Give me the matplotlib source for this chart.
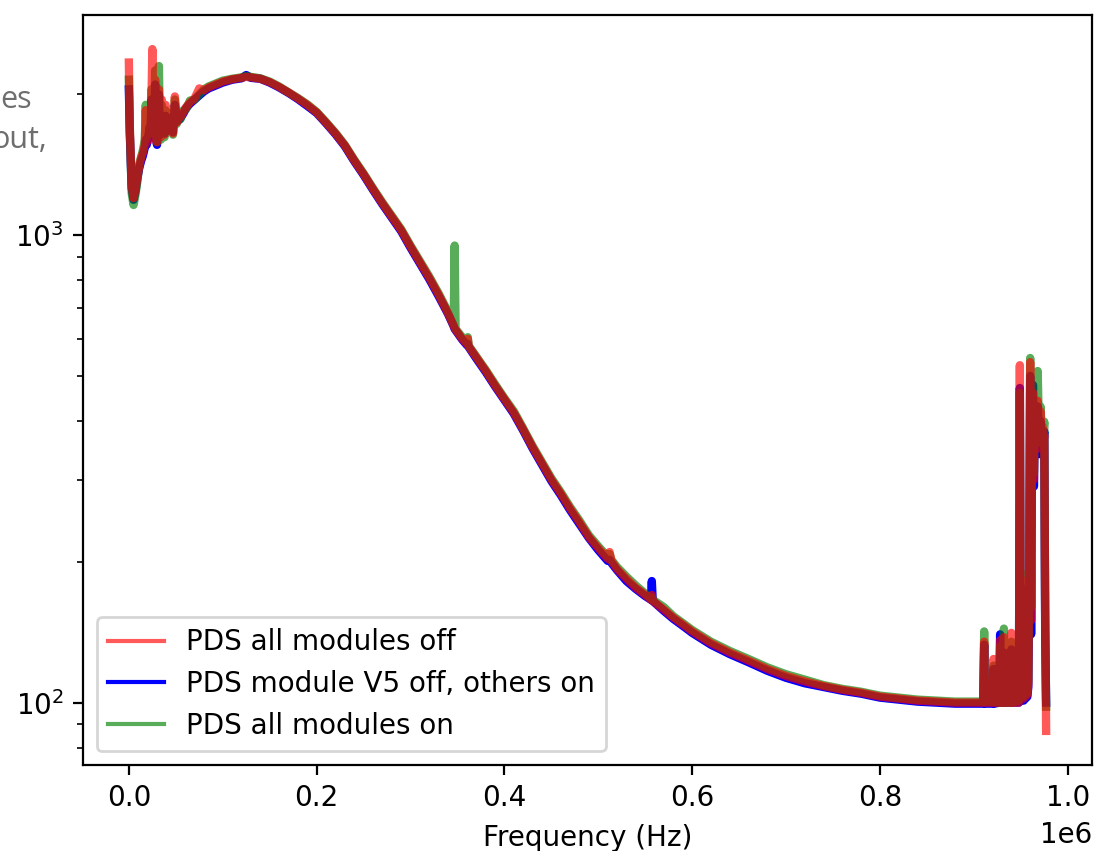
import matplotlib
matplotlib.use("Agg")
import matplotlib.pyplot as plt

# Frequency grid (kHz)
freq_khz = [
    0, 1, 3, 5, 7, 9, 11, 13, 15, 17,
    18, 19, 21, 22, 23, 24, 25, 26, 27, 28,
    29, 30, 31, 32, 33, 34, 35, 36, 37, 38,
    39, 40, 41, 42, 44, 46, 47, 49, 51, 53,
    55, 58, 61, 65, 70, 75, 80, 85, 90, 95,
    100, 110, 120, 125, 130, 140, 150, 160, 170, 180,
    190, 200, 210, 220, 230, 240, 250, 260, 270, 280,
    290, 300, 310, 320, 330, 340, 346, 347, 348, 355,
    360, 361, 362, 370, 380, 390, 400, 410, 420, 430,
    440, 450, 460, 470, 480, 490, 500, 510, 512, 514,
    520, 530, 540, 550, 556, 557, 558, 570, 580, 590,
    600, 620, 640, 660, 680, 700, 720, 740, 760, 780,
    800, 820, 840, 860, 880, 900, 910, 911, 912, 920,
    921, 922, 927, 928, 929, 931, 932, 933, 939, 940,
    941, 948, 949, 950, 953, 954, 955, 957, 958, 959,
    960, 961, 962, 963, 964, 965, 966, 967, 968, 969,
    970, 971, 972, 973, 974, 975, 976, 977,
]

# PDS all modules off (red)
pds_all_off = [
    2340, 1700, 1280, 1200, 1250, 1330, 1400, 1460, 1500, 1560,
    1850, 1580, 1620, 1750, 1600, 1900, 2500, 1650, 1700, 2150,
    1620, 1580, 1800, 2050, 1650, 1620, 1950, 1680, 1750, 1640,
    1900, 1680, 1850, 1690, 1850, 1680, 1650, 1980, 1740, 1780,
    1790, 1830, 1880, 1920, 1960, 2060, 2040, 2070, 2090, 2110,
    2130, 2155, 2170, 2180, 2175, 2160, 2125, 2075, 2020, 1960,
    1900, 1830, 1740, 1650, 1555, 1445, 1350, 1255, 1170, 1095,
    1025, 945, 875, 810, 745, 680, 640, 632, 628, 600,
    585, 600, 578, 548, 513, 477, 446, 417, 384, 352,
    325, 300, 280, 260, 243, 226, 214, 203, 210, 201,
    193, 184, 176, 170, 166, 170, 165, 158, 152, 147,
    142, 134, 128, 123, 118, 114, 111, 108.5, 106.5, 105,
    103, 102, 101, 100.5, 100, 100, 100, 135, 100, 100,
    124, 100, 100, 136, 100, 100, 138, 100, 100, 141,
    100, 100, 527, 102, 102, 182, 103, 104, 110, 200,
    535, 150, 420, 460, 300, 440, 380, 430, 442, 400,
    350, 420, 380, 390, 360, 373, 150, 87,
]

# PDS module V5 off, others on (blue)
pds_v5_off = [
    2050, 1650, 1260, 1190, 1240, 1320, 1390, 1440, 1480, 1540,
    1600, 1560, 1640, 1700, 1620, 1950, 1700, 1850, 1620, 2100,
    1600, 1560, 1700, 2000, 1640, 1660, 1800, 1660, 1700, 1650,
    1800, 1670, 1750, 1700, 1780, 1700, 1660, 1900, 1750, 1760,
    1780, 1820, 1870, 1910, 1950, 1990, 2030, 2060, 2080, 2100,
    2120, 2150, 2165, 2200, 2170, 2160, 2120, 2070, 2015, 1955,
    1890, 1825, 1735, 1645, 1550, 1440, 1345, 1250, 1165, 1090,
    1020, 940, 870, 805, 740, 678, 638, 630, 626, 598,
    582, 585, 576, 545, 510, 475, 444, 415, 382, 350,
    323, 298, 278, 258, 241, 225, 212, 201, 202, 199,
    192, 182, 175, 169, 166, 182, 165, 157, 151, 146,
    141, 133, 127, 122, 117, 113, 110, 108, 106, 104.5,
    102.5, 101.5, 100.5, 100, 99.5, 99.5, 99.5, 133, 99.5, 99.5,
    118, 99.5, 100, 140, 100, 100, 128, 100, 100, 130,
    100, 100, 471, 101, 101, 175, 102, 103, 108, 180,
    500, 140, 400, 478, 290, 420, 370, 410, 430, 390,
    340, 400, 370, 380, 350, 380, 140, 100,
]

# PDS all modules on (green)
pds_all_on = [
    2150, 1680, 1230, 1160, 1220, 1300, 1420, 1470, 1520, 1600,
    1900, 1620, 1780, 1650, 1700, 2050, 1750, 1900, 1650, 2250,
    1640, 1580, 1750, 2300, 1680, 1600, 1900, 1640, 1850, 1620,
    1850, 1660, 1800, 1680, 1820, 1660, 1640, 1950, 1730, 1800,
    1770, 1850, 1860, 1940, 1950, 2000, 2050, 2080, 2100, 2120,
    2140, 2160, 2175, 2190, 2180, 2165, 2130, 2080, 2020, 1965,
    1905, 1835, 1745, 1655, 1560, 1450, 1355, 1260, 1175, 1100,
    1030, 950, 880, 815, 750, 685, 645, 950, 630, 605,
    588, 605, 580, 550, 515, 480, 448, 420, 386, 354,
    327, 302, 282, 262, 245, 228, 216, 205, 208, 202,
    195, 186, 178, 171, 167, 168, 166, 160, 153, 148,
    143, 135, 129, 124, 119, 115, 112, 109, 107, 105.5,
    103.5, 102.5, 101.5, 101, 100.5, 100.5, 100.5, 142, 100.5, 100.5,
    120, 100.5, 100, 132, 100, 100, 144, 100, 100, 135,
    100, 101, 460, 103, 103, 188, 104, 105, 112, 190,
    546, 160, 410, 470, 310, 450, 390, 440, 512, 410,
    360, 430, 390, 399, 370, 399, 150, 98,
]

labels = ["PDS all modules off", "PDS module V5 off, others on", "PDS all modules on"]

freq_hz = [f * 1e3 for f in freq_khz]

fig = plt.figure(figsize=(5.49, 4.255), dpi=200)
ax = fig.add_axes([83 / 1098, 1 - 765 / 851, (1092 - 83) / 1098, (765 - 15) / 851])

lw = 3.0
h_blue, = ax.plot(freq_hz, pds_v5_off, color="blue", lw=lw, label=labels[1])
h_green, = ax.plot(freq_hz, pds_all_on, color="green", alpha=0.65, lw=lw, label=labels[2])
h_red, = ax.plot(freq_hz, pds_all_off, color="red", alpha=0.65, lw=lw, label=labels[0])

ax.set_yscale("log")
ax.set_xlabel("Frequency (Hz)")

leg = ax.legend(handles=[h_red, h_blue, h_green], loc="lower left")
for line in leg.get_lines():
    line.set_linewidth(1.5)

# partially visible grey text at the left edge (cut off in the reference too)
fig.text(32 / 1098, 1 - 108 / 851, "es", ha="right", va="baseline",
         color="#6e6e6e", fontsize=11, family="Open Sans")
fig.text(47 / 1098, 1 - 148 / 851, "out,", ha="right", va="baseline",
         color="#6e6e6e", fontsize=11, family="Open Sans")

fig.savefig("out.png", dpi=200)
